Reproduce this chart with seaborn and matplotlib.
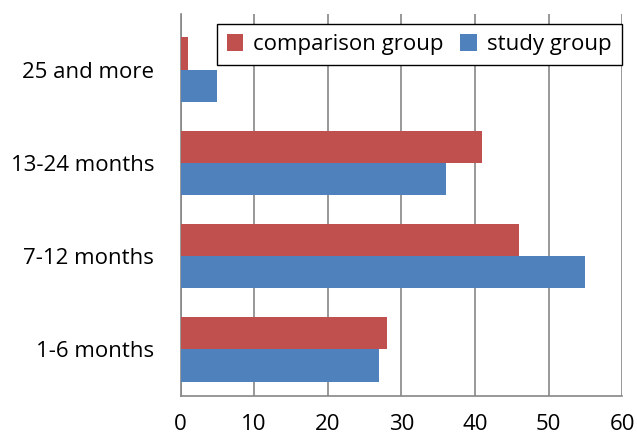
import matplotlib
matplotlib.use("Agg")
import matplotlib.pyplot as plt
import seaborn as sns
import pandas as pd
from matplotlib.ticker import FixedLocator

categories = ["25 and more", "13-24 months", "7-12 months", "1-6 months"]
comparison_group = [1, 41, 46, 28]
study_group = [5, 36, 55, 27]
groups = ["comparison group", "study group"]
x_ticks = [0, 10, 20, 30, 40, 50, 60]

df = pd.DataFrame({
    "category": categories * 2,
    "value": comparison_group + study_group,
    "group": [groups[0]] * len(categories) + [groups[1]] * len(categories),
})

sns.set_style("white")
plt.rcParams["font.family"] = ["Open Sans", "DejaVu Sans"]
plt.rcParams["text.color"] = "black"
plt.rcParams["xtick.color"] = "black"
plt.rcParams["ytick.color"] = "black"

fig = plt.figure(figsize=(6.37, 4.38), dpi=100)
ax = fig.add_axes([0.2834, 0.0959, 0.6935, 0.8731])

sns.barplot(data=df, y="category", x="value", hue="group", order=categories,
            hue_order=groups, palette=["#C0504D", "#4F81BD"], orient="h",
            width=0.69, linewidth=0, saturation=1, ax=ax, zorder=3)

gray = "#868686"
ax.set_xlim(0, 60)
ax.set_ylim(3.5, -0.6)
ax.set_xticks(x_ticks)
ax.set_xticklabels([str(t) for t in x_ticks], fontsize=16)
ax.xaxis.grid(True, color=gray, linewidth=1.2, zorder=0)
ax.yaxis.grid(False)
ax.set_axisbelow(True)
ax.set_xlabel("")
ax.set_ylabel("")
ax.tick_params(axis="y", which="major", length=0, labelsize=16, pad=19, labelcolor="black")
ax.yaxis.set_minor_locator(FixedLocator([-0.6, 0.5, 1.5, 2.5, 3.5]))
ax.tick_params(axis="y", which="minor", length=6, width=1.2, color=gray, direction="out")
ax.tick_params(axis="x", which="major", length=6, width=1.2, color=gray, direction="out",
               pad=7, labelcolor="black")
for s in ["top", "right"]:
    ax.spines[s].set_visible(False)
for s in ["left", "bottom"]:
    ax.spines[s].set_color(gray)
    ax.spines[s].set_linewidth(1.2)

leg = ax.legend(loc="upper left", bbox_to_anchor=(0.0815, 0.972), ncol=2, fontsize=16,
                frameon=True, fancybox=False, edgecolor="black", handlelength=0.75,
                handleheight=0.75, handletextpad=0.45, columnspacing=0.75,
                borderpad=0.45, borderaxespad=0)
leg.get_frame().set_linewidth(1.0)
leg.get_frame().set_alpha(1)
for t in leg.get_texts():
    t.set_color("black")

fig.savefig("out.png", dpi=100)
